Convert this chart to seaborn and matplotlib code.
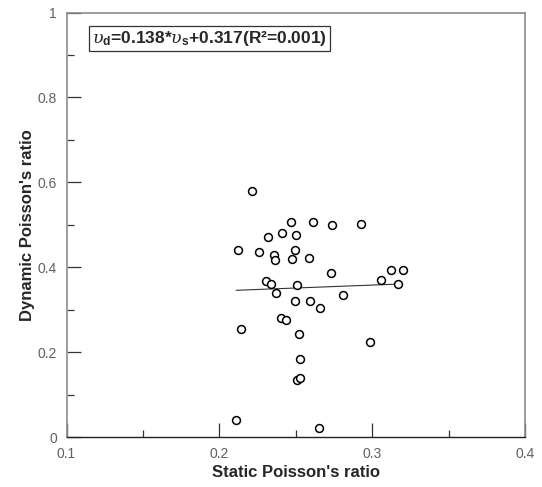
import numpy as np
import pandas as pd
import matplotlib
matplotlib.use("Agg")
import matplotlib.pyplot as plt
import seaborn as sns

# Static vs dynamic Poisson's ratio of the samples
static_ratio = [0.2212, 0.2472, 0.2613, 0.2737, 0.2929, 0.2410, 0.2500, 0.2317,
                0.2121, 0.2260, 0.2493, 0.2356, 0.2363, 0.2478, 0.2587, 0.2729,
                0.3121, 0.3199, 0.3060, 0.2306, 0.2339, 0.2505, 0.3169, 0.2369,
                0.2809, 0.2498, 0.2592, 0.2661, 0.2404, 0.2437, 0.2145, 0.2520,
                0.2986, 0.2526, 0.2511, 0.2528, 0.2110, 0.2650]
dynamic_ratio = [0.5805, 0.5060, 0.5075, 0.4998, 0.5014, 0.4802, 0.4762, 0.4708,
                 0.4402, 0.4369, 0.4402, 0.4291, 0.4174, 0.4204, 0.4221, 0.3875,
                 0.3931, 0.3931, 0.3703, 0.3672, 0.3602, 0.3578, 0.3616, 0.3404,
                 0.3350, 0.3216, 0.3202, 0.3044, 0.2815, 0.2761, 0.2557, 0.2439,
                 0.2243, 0.1843, 0.1356, 0.1389, 0.0400, 0.0226]

# Linear fit reported in the legend box
slope, intercept, r2 = 0.138, 0.317, 0.001

x_ticks = [0.1, 0.2, 0.3, 0.4]
y_ticks = [0, 0.2, 0.4, 0.6, 0.8, 1]
x_tick_labels = ["0.1", "0.2", "0.3", "0.4"]
y_tick_labels = ["0", "0.2", "0.4", "0.6", "0.8", "1"]

sns.set_style("white")
plt.rcParams["font.family"] = ["Liberation Sans", "DejaVu Sans"]
plt.rcParams["mathtext.fontset"] = "custom"
plt.rcParams["mathtext.rm"] = "Liberation Sans:bold"
plt.rcParams["mathtext.bf"] = "Liberation Sans:bold"
plt.rcParams["mathtext.it"] = "DejaVu Serif:italic"

df = pd.DataFrame({"static": static_ratio, "dynamic": dynamic_ratio})

fig = plt.figure(figsize=(5.42, 4.87), dpi=100)
ax = fig.add_axes([0.1227, 0.1020, 0.8459, 0.8723])

sns.scatterplot(data=df, x="static", y="dynamic", ax=ax, s=32,
                facecolor="white", edgecolor="black", linewidth=1.1,
                zorder=3, legend=False)

fit_x = np.array([min(static_ratio), 0.317])
fit = pd.DataFrame({"static": fit_x, "dynamic": slope * fit_x + intercept})
sns.lineplot(data=fit, x="static", y="dynamic", ax=ax, color="#333333",
             linewidth=0.8, zorder=2)

ax.set_xlim(0.1, 0.4)
ax.set_ylim(0, 1)
ax.set_xticks(x_ticks)
ax.set_xticklabels(x_tick_labels)
ax.set_yticks(y_ticks)
ax.set_yticklabels(y_tick_labels)
ax.set_xticks([0.15, 0.25, 0.35], minor=True)
ax.set_yticks([0.1, 0.3, 0.5, 0.7, 0.9], minor=True)

ax.tick_params(axis="both", which="both", bottom=True, left=True,
               top=False, right=False)
ax.tick_params(axis="both", which="major", direction="in", length=10,
               width=0.9, color="#333333", labelsize=10, labelcolor="#606060", pad=7)
ax.tick_params(axis="both", which="minor", direction="in", length=5,
               width=0.9, color="#333333")

for side in ["top", "right", "left"]:
    ax.spines[side].set_color("#8c8c8c")
    ax.spines[side].set_linewidth(1.2)
ax.spines["bottom"].set_color("#222222")
ax.spines["bottom"].set_linewidth(1.0)

ax.set_xlabel("Static Poisson's ratio", fontsize=12, fontweight="bold", labelpad=3)
ax.set_ylabel("Dynamic Poisson's ratio", fontsize=12, fontweight="bold", labelpad=2)

label = (r"$\upsilon_{\mathbf{d}}$" + f"={slope:.3f}*" + r"$\upsilon_{\mathbf{s}}$"
         + f"+{intercept:.3f}(R²={r2:.3f})")
ax.text(0.055, 0.962, label, transform=ax.transAxes, fontsize=12.5,
        fontweight="bold", ha="left", va="top",
        bbox=dict(boxstyle="square,pad=0.18", facecolor="white",
                  edgecolor="#333333", linewidth=0.9))

ax.set_facecolor("white")
fig.patch.set_facecolor("white")
fig.savefig("out.png", dpi=100)
